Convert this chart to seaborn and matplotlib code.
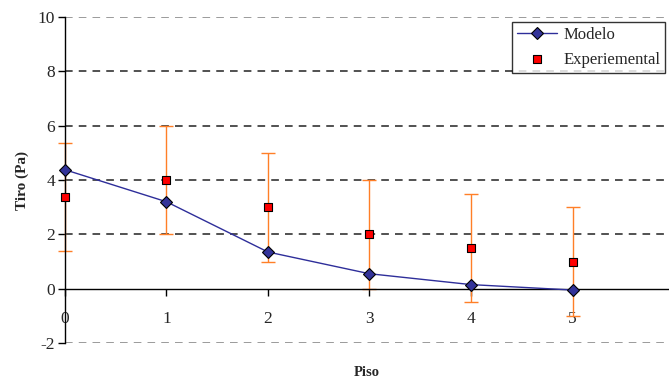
import numpy as np
import pandas as pd
import matplotlib
matplotlib.use("Agg")
import matplotlib.pyplot as plt
import seaborn as sns

# data
piso = [0, 1, 2, 3, 4, 5]
modelo = [4.38, 3.2, 1.35, 0.55, 0.15, -0.05]
experimental = [3.38, 4.0, 3.0, 2.0, 1.5, 1.0]
erro = [2.0, 2.0, 2.0, 2.0, 2.0, 2.0]
y_ticks = [-2, 0, 2, 4, 6, 8, 10]

df = pd.DataFrame({"piso": piso, "modelo": modelo,
                   "experimental": experimental, "erro": erro})

sns.set_style("white")
plt.rcParams["font.family"] = ["Liberation Serif", "DejaVu Serif"]
plt.rcParams["axes.unicode_minus"] = False

fig = plt.figure(figsize=(6.69, 3.79), dpi=100)
ax = fig.add_axes([0.097, 0.095, 0.903, 0.86])

# horizontal dashed grid
for yv in y_ticks:
    if yv == 0:
        continue
    c = "#808080" if yv in (-2, 10) else "#222222"
    ax.axhline(yv, color=c, lw=1.1, ls=(0, (5, 4)), zorder=1)

# error bars
ax.errorbar(df["piso"], df["experimental"], yerr=df["erro"], fmt="none",
            ecolor="#ff7f27", elinewidth=1, capsize=5, capthick=1,
            zorder=2, clip_on=False)

sns.lineplot(data=df, x="piso", y="modelo", ax=ax, color="#2e2e9a", lw=1,
             marker="D", markersize=6, markerfacecolor="#333399",
             markeredgecolor="black", markeredgewidth=0.8,
             label="Modelo", zorder=4, clip_on=False)
sns.scatterplot(data=df, x="piso", y="experimental", ax=ax, marker="s",
                s=40, color="red", edgecolor="black", linewidth=0.8,
                label="Experiemental", zorder=5, clip_on=False)

ax.set_xlim(0, 5.95)
ax.set_ylim(-2, 10)
ax.set_yticks(y_ticks)
ax.set_xticks(piso)

ax.spines["top"].set_visible(False)
ax.spines["right"].set_visible(False)
ax.spines["bottom"].set_position(("data", 0))
ax.spines["bottom"].set_color("black")
ax.spines["left"].set_color("black")
ax.spines["bottom"].set_linewidth(1)
ax.spines["left"].set_linewidth(1)

ax.tick_params(axis="y", direction="out", length=5, width=1, color="black",
               labelsize=12.5, pad=2, left=True)
ax.tick_params(axis="x", direction="out", length=5, width=1, color="black",
               labelsize=12.5, pad=11, bottom=True)

ax.set_xlabel("Piso", fontsize=10.5, fontweight="bold", labelpad=0)
ax.xaxis.set_label_coords(0.5, -0.07)
ax.set_ylabel("Tiro (Pa)", fontsize=11, fontweight="bold", labelpad=6)

leg = ax.legend(loc="upper right", bbox_to_anchor=(0.994, 0.986),
                frameon=True, fancybox=False, fontsize=12,
                handlelength=2.4, handletextpad=0.4, borderpad=0.3,
                labelspacing=0.55, borderaxespad=0)
leg.get_frame().set_edgecolor("black")
leg.get_frame().set_linewidth(1)

fig.savefig("out.png", dpi=100)
